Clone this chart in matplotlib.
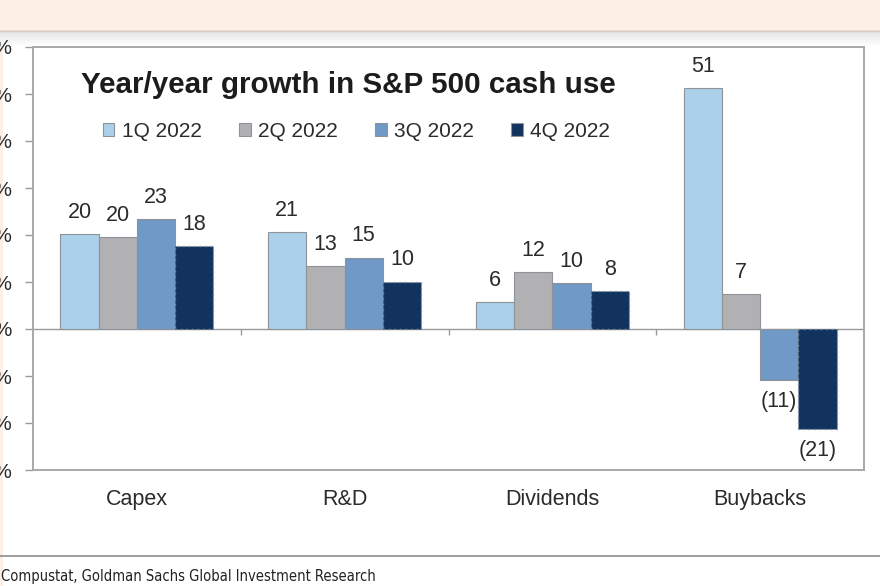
import numpy as np
import matplotlib
matplotlib.use('Agg')
import matplotlib.pyplot as plt
from matplotlib.patches import Patch, Rectangle
from matplotlib.lines import Line2D
from matplotlib.colors import LinearSegmentedColormap
from matplotlib import font_manager

plt.rcParams['font.family'] = ['Liberation Sans', 'DejaVu Sans']

categories = ['Capex', 'R&D', 'Dividends', 'Buybacks']
quarters = ['1Q 2022', '2Q 2022', '3Q 2022', '4Q 2022']
q1 = [20.2, 20.6, 5.8, 51.2]
q2 = [19.6, 13.3, 12.2, 7.4]
q3 = [23.4, 15.2, 9.7, -10.9]
q4 = [17.6, 10.1, 8.1, -21.3]
y_ticks = [-30, -20, -10, 0, 10, 20, 30, 40, 50, 60]
source = 'Compustat, Goldman Sachs Global Investment Research'

colors = ['#abd0ea', '#b1b1b3', '#7099c8', '#12335e']

W, H = 880, 586
fig = plt.figure(figsize=(W / 100, H / 100), dpi=100)
fig.patch.set_facecolor('white')

# top band of the screenshot
fig.add_artist(Rectangle((0, 1 - 30 / H), 1, 30 / H, transform=fig.transFigure,
                         facecolor='#fdefe4', edgecolor='none', zorder=0))
fig.add_artist(Rectangle((0, 0), 3 / W, 1, transform=fig.transFigure,
                         facecolor='#fdefe4', edgecolor='none', zorder=0))
gax = fig.add_axes([0, 1 - 46 / H, 1, 16 / H])
grad = LinearSegmentedColormap.from_list('g', ['#e2e2e2', '#ffffff'])
gax.imshow(np.linspace(0, 1, 50).reshape(-1, 1), aspect='auto', cmap=grad,
           extent=[0, 1, 0, 1])
gax.axis('off')
fig.add_artist(Line2D([0, 1], [1 - 30.5 / H] * 2, transform=fig.transFigure,
                      color='#dccbbf', lw=1))

ax = fig.add_axes([33 / W, 1 - 470 / H, (864 - 33) / W, (470 - 47) / H])

x = np.arange(len(categories))
w = 0.184
series = [q1, q2, q3, q4]
for i, vals in enumerate(series):
    if i == 3:
        bars = ax.bar(x + (i - 1.5) * w, vals, w, color=colors[i],
                      edgecolor='#7f8fa6', linewidth=1, linestyle=(0, (1, 3)),
                      zorder=3)
    else:
        bars = ax.bar(x + (i - 1.5) * w, vals, w, color=colors[i],
                      edgecolor='#8e9399', linewidth=0.8, zorder=3)
    labels = [f'{v:.0f}' if v >= 0 else f'({abs(v):.0f})' for v in vals]
    ax.bar_label(bars, labels=labels, padding=8, fontsize=15.5, color='#2b2b2b')

ax.axhline(0, color='#9a9a9a', lw=1, zorder=2)
ax.set_xlim(-0.5, 3.5)
ax.set_ylim(-30, 60)
ax.set_yticks(y_ticks)
ax.set_yticklabels([f'{v}%' for v in y_ticks])
ax.tick_params(axis='y', direction='out', length=6, width=1, color='#9a9a9a',
               pad=9, labelsize=15, labelcolor='#2b2b2b')
ax.set_xticks(x)
ax.set_xticklabels(categories)
ax.tick_params(axis='x', length=0, pad=13.5, labelsize=15.5, labelcolor='#2b2b2b')
for s in ax.spines.values():
    s.set_color('#a8a8a8')
    s.set_linewidth(1.4)

sec = ax.secondary_xaxis(1 / 3)
sec.set_xticks([0.5, 1.5, 2.5])
sec.set_xticklabels([])
sec.tick_params(direction='out', length=4, color='#9a9a9a', width=1)
sec.spines['bottom'].set_visible(False)

fig.text(80.5 / W, 1 - 93.3 / H, 'Year/year growth in S&P 500 cash use',
         fontsize=21.3, fontweight='bold', color='#1c1c1c', va='baseline', ha='left')

handles = [Patch(facecolor=c, edgecolor='#8e9399', linewidth=0.8) for c in colors]
ax.legend(handles, quarters, ncol=4, frameon=False, fontsize=15,
          loc='upper left', bbox_to_anchor=(103 / W, 1 - 122 / H),
          bbox_transform=fig.transFigure, borderpad=0, borderaxespad=0,
          handlelength=0.55, handleheight=0.55, handletextpad=0.35,
          columnspacing=1.8, labelcolor='#2b2b2b')

fig.add_artist(Line2D([0, 1], [1 - 556 / H] * 2, transform=fig.transFigure,
                      color='#8c8c8c', lw=1.2))
narrow = font_manager.FontProperties(family=['Liberation Sans Narrow', 'DejaVu Sans'],
                                     stretch='condensed', size=10.5)
fig.text(1 / W, 1 - 581 / H, source, fontproperties=narrow, va='baseline',
         ha='left', color='#222222')

fig.savefig('out.png', dpi=100)
